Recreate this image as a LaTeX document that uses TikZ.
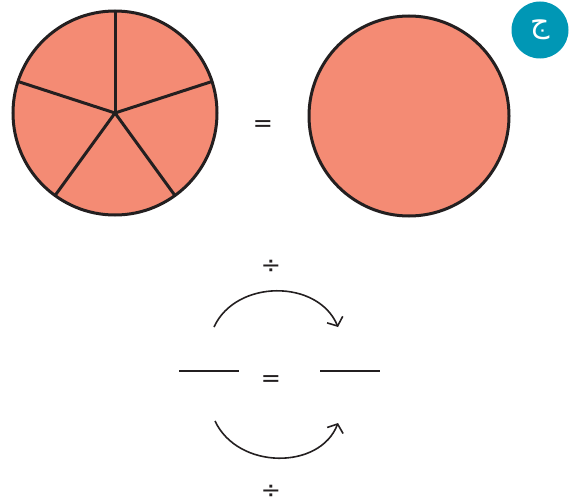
\documentclass[tikz,border=0pt]{standalone}
\usepackage{fontspec}
\usepackage{xcolor}
\usepackage{tikz}
\usetikzlibrary{arrows.meta}
\newfontfamily\arabicfont[Script=Arabic]{DejaVu Sans}
\newfontfamily\segnifont{DejaVu Sans}
\TeXXeTstate=1
\definecolor{salmone}{HTML}{F48B74}
\definecolor{inchiostro}{HTML}{231F20}
\definecolor{turchese}{HTML}{0097B5}

\begin{document}
\begin{tikzpicture}[x=1pt, y=-1pt,
    segno/.style={inchiostro, font=\segnifont\fontsize{24}{24}\selectfont},
    freccia/.style={inchiostro, line width=1.6pt, -{Straight Barb[length=7pt,width=17pt,line width=1.6pt]}},
    linea/.style={inchiostro, line width=1.8pt}]
        \useasboundingbox (0,0) rectangle (572,503);
        % cerchio diviso in quinti
        \fill[salmone] (115,113) circle (102);
        \foreach \a in {90,18,-54,-126,-198}
            \draw[inchiostro, line width=3pt] (115,113) -- ++(\a:102 and -102);
        \draw[inchiostro, line width=3pt] (115,113) circle (102);
        % cerchio intero
        \draw[inchiostro, line width=3pt, fill=salmone] (409,116) circle (100);
        \node[segno] (ug1) at (263,126) {=};
        % etichetta
        \node[circle, fill=turchese, minimum size=57pt, inner sep=0pt, text=white,
              font=\arabicfont\fontsize{30}{30}\selectfont] (lettera) at (540,30) {\beginR ج\endR};
        % frazioni
        \coordinate (n1a) at (179,371);
        \coordinate (n1b) at (239,371);
        \coordinate (n2a) at (320,371);
        \coordinate (n2b) at (380,371);
        \draw[linea] (n1a) -- (n1b);
        \draw[linea] (n2a) -- (n2b);
        \node[segno] (ug2) at (271,381) {=};
        % frecce
        \coordinate (s1) at (214,327);
        \coordinate (e1) at (338,327);
        \coordinate (s2) at (215,421);
        \coordinate (e2) at (338,423);
        \draw[freccia] (s1) .. controls (236,279) and (318,279) .. (e1);
        \draw[freccia] (s2) .. controls (238,470) and (320,470) .. (e2);
        \node[segno] (div1) at (271,267) {÷};
        \node[segno] (div2) at (271,492) {÷};
    \end{tikzpicture}
\end{document}
